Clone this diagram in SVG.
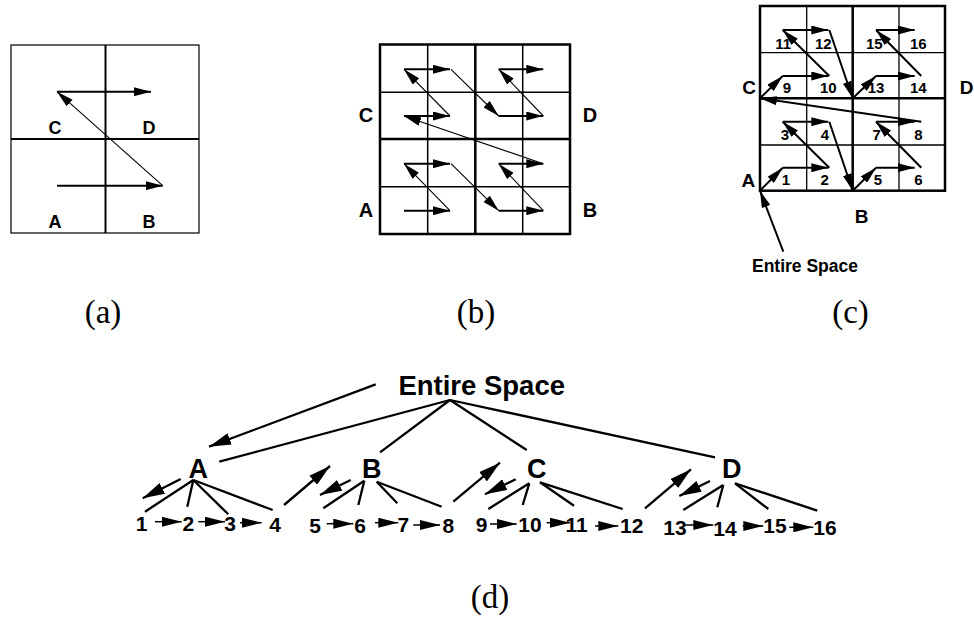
<svg xmlns="http://www.w3.org/2000/svg" width="974" height="631" viewBox="0 0 974 631">
<style>
.g{fill:none;stroke:#000}
.h{fill:none;stroke:#000;stroke-width:2;marker-end:url(#ah)}
.d{fill:none;stroke:#000;stroke-width:1.1;marker-end:url(#ah)}
.tl{fill:none;stroke:#000;stroke-width:2.3}
.ta{fill:none;stroke:#000;stroke-width:2.3;marker-end:url(#ahL)}
.sa{fill:none;stroke:#000;stroke-width:1.5;marker-end:url(#ahS)}
.t{font-family:"Liberation Sans",Arial,sans-serif;font-weight:bold;fill:#000;text-anchor:middle}
.cap{font-family:"Liberation Serif","Times New Roman",serif;font-size:33px;fill:#000;text-anchor:middle}
</style>
<defs>
<marker id="ah" viewBox="0 0 17 9" refX="17" refY="4.5" markerWidth="17" markerHeight="9" markerUnits="userSpaceOnUse" orient="auto"><path d="M0,0 L17,4.5 L0,9 z" fill="#000"/></marker>
<marker id="ahL" viewBox="0 0 22 12" refX="22" refY="6" markerWidth="22" markerHeight="12" markerUnits="userSpaceOnUse" orient="auto"><path d="M0,0 L22,6 L0,12 z" fill="#000"/></marker>
<marker id="ahS" viewBox="0 0 20 10" refX="20" refY="5" markerWidth="20" markerHeight="10" markerUnits="userSpaceOnUse" orient="auto"><path d="M0,0 L20,5 L0,10 z" fill="#000"/></marker>
</defs>

<g id="panel-a">
<rect class="g" x="11" y="45" width="188" height="188" stroke-width="1.2"/>
<line class="g" x1="105.5" y1="45" x2="105.5" y2="233" stroke-width="2"/>
<line class="g" x1="11" y1="139" x2="199" y2="139" stroke-width="2"/>
<g id="a-connectors">
<path class="h" d="M57,185.7 H162.7"/>
<path class="d" d="M162.7,185.7 L57,91.7"/>
<path class="h" d="M57,91.7 H151"/>
</g>
<text class="t" font-size="18" x="55" y="134">C</text>
<text class="t" font-size="18" x="149" y="134">D</text>
<text class="t" font-size="18" x="55" y="228">A</text>
<text class="t" font-size="18" x="149" y="228">B</text>
<text class="cap" x="103" y="323">(a)</text>
</g>

<g id="panel-b">
<rect class="g" x="380" y="44.5" width="190" height="189.5" stroke-width="2.5"/>
<line class="g" x1="427.7" y1="44.5" x2="427.7" y2="234" stroke-width="1.5"/>
<line class="g" x1="522.7" y1="44.5" x2="522.7" y2="234" stroke-width="1.5"/>
<line class="g" x1="380" y1="92.3" x2="570" y2="92.3" stroke-width="1.5"/>
<line class="g" x1="380" y1="186.7" x2="570" y2="186.7" stroke-width="1.5"/>
<line class="g" x1="475.3" y1="44.5" x2="475.3" y2="234" stroke-width="2.5"/>
<line class="g" x1="380" y1="139" x2="570" y2="139" stroke-width="2.5"/>
<g id="b-connectors">
<path class="h" d="M404,210.7 H450"/>
<path class="d" d="M450,210.7 L404,163.7"/>
<path class="h" d="M404,163.7 H450"/>
<path class="d" d="M451,163.7 L498.7,210.7"/>
<path class="h" d="M498.7,210.7 H543.3"/>
<path class="d" d="M543.3,210.7 L498.7,163.7"/>
<path class="h" d="M498.7,163.7 H543.3"/>
<path class="d" d="M543.3,163.7 L404,116"/>
<path class="h" d="M404,116 H450"/>
<path class="d" d="M450,116 L404,69.3"/>
<path class="h" d="M404,69.3 H450"/>
<path class="d" d="M451,69.3 L498.7,116"/>
<path class="h" d="M498.7,116 H543.3"/>
<path class="d" d="M543.3,116 L498.7,69.3"/>
<path class="h" d="M498.7,69.3 H543.3"/>
</g>
<text class="t" font-size="20" x="366" y="122">C</text>
<text class="t" font-size="20" x="590" y="122">D</text>
<text class="t" font-size="20" x="366" y="217">A</text>
<text class="t" font-size="20" x="590" y="217">B</text>
<text class="cap" x="476" y="323">(b)</text>
</g>

<g id="panel-c">
<rect class="g" x="760" y="6" width="185" height="184.7" stroke-width="2.5"/>
<line class="g" x1="806.7" y1="6" x2="806.7" y2="190.7" stroke-width="1.3"/>
<line class="g" x1="899" y1="6" x2="899" y2="190.7" stroke-width="1.3"/>
<line class="g" x1="760" y1="52.7" x2="945" y2="52.7" stroke-width="1.3"/>
<line class="g" x1="760" y1="145" x2="945" y2="145" stroke-width="1.3"/>
<line class="g" x1="852.7" y1="6" x2="852.7" y2="190.7" stroke-width="2.5"/>
<line class="g" x1="760" y1="98.3" x2="945" y2="98.3" stroke-width="2.5"/>
<g id="c-connectors">
<path class="h" d="M760,190.7 L782.7,167.7"/>
<path class="h" d="M782.7,167.7 H828.3"/>
<path class="h" d="M829.3,167.7 L782.7,121.7"/>
<path class="h" d="M782.7,121.7 H828.3"/>
<path class="h" d="M829.3,121.7 L852.7,190.7"/>
<path class="h" d="M852.7,190.7 L876,167.7"/>
<path class="h" d="M876,167.7 H914.7"/>
<path class="h" d="M921.3,167.7 L876,121.7"/>
<path class="h" d="M876,121.7 H914.7"/>
<path class="h" stroke-width="1.6" d="M921.3,121.7 L760,98.3"/>
<path class="h" d="M760,98.3 L782.7,76"/>
<path class="h" d="M782.7,76 H828.3"/>
<path class="h" d="M829.3,76 L782.7,30"/>
<path class="h" d="M782.7,30 H828.3"/>
<path class="h" d="M829.3,30 L852.7,98.3"/>
<path class="h" d="M852.7,98.3 L876,76"/>
<path class="h" d="M876,76 H914.7"/>
<path class="h" d="M921.3,76 L876,30"/>
<path class="h" d="M876,30 H914.7"/>
<path class="h" d="M783.3,251.7 L760,190.7"/>
</g>
<g font-size="15">
<text class="t" x="786" y="185">1</text>
<text class="t" x="824.7" y="185">2</text>
<text class="t" x="878" y="185">5</text>
<text class="t" x="918.3" y="185">6</text>
<text class="t" x="785" y="140">3</text>
<text class="t" x="825" y="140">4</text>
<text class="t" x="876.7" y="140">7</text>
<text class="t" x="918.3" y="140">8</text>
<text class="t" x="787" y="93.3">9</text>
<text class="t" x="828.3" y="93.3">10</text>
<text class="t" x="876" y="93.3">13</text>
<text class="t" x="918.3" y="93.3">14</text>
<text class="t" x="783.3" y="49.3">11</text>
<text class="t" x="823.3" y="49.3">12</text>
<text class="t" x="874.3" y="49.3">15</text>
<text class="t" x="918.3" y="49.3">16</text>
</g>
<text class="t" font-size="19" x="749" y="94">C</text>
<text class="t" font-size="19" x="966.5" y="94">D</text>
<text class="t" font-size="19" x="748.3" y="186.5">A</text>
<text class="t" font-size="19" x="861.7" y="222.5">B</text>
<text class="t" font-size="17.5" x="805" y="272">Entire Space</text>
<text class="cap" x="850.5" y="323">(c)</text>
</g>

<g id="panel-d">
<g id="tree-connectors">
<line class="tl" x1="450" y1="400" x2="219.3" y2="461.7"/>
<line class="tl" x1="450" y1="400" x2="380" y2="452.3"/>
<line class="tl" x1="450" y1="400" x2="526.7" y2="450"/>
<line class="tl" x1="450" y1="400" x2="715" y2="457.3"/>
<path class="ta" d="M375.7,384.3 L209,446.7"/>

<line class="tl" x1="193.3" y1="480" x2="145" y2="511.7"/>
<line class="tl" x1="193.3" y1="480" x2="187.3" y2="506.7"/>
<line class="tl" x1="193.3" y1="480" x2="228.3" y2="514.3"/>
<line class="tl" x1="193.3" y1="480" x2="272.7" y2="510"/>

<line class="tl" x1="364.3" y1="480.7" x2="323.3" y2="508.3"/>
<line class="tl" x1="364.3" y1="480.7" x2="358.3" y2="505"/>
<line class="tl" x1="376.7" y1="481.7" x2="397.3" y2="503.3"/>
<line class="tl" x1="376.7" y1="481.7" x2="441.7" y2="506.7"/>

<line class="tl" x1="529.3" y1="483.3" x2="488.3" y2="509"/>
<line class="tl" x1="529.3" y1="483.3" x2="522.7" y2="505"/>
<line class="tl" x1="540" y1="482.3" x2="574" y2="505.7"/>
<line class="tl" x1="540" y1="482.3" x2="622.7" y2="509"/>

<line class="tl" x1="723.3" y1="485" x2="683.3" y2="510"/>
<line class="tl" x1="723.3" y1="485" x2="717.3" y2="507.3"/>
<line class="tl" x1="735" y1="483.3" x2="768.3" y2="509"/>
<line class="tl" x1="735" y1="483.3" x2="817.3" y2="510.7"/>

<path class="ta" d="M180.7,479 L142.7,498.3"/>
<path class="ta" d="M284,505 L330,466"/>
<path class="ta" d="M350.7,480 L320,495"/>
<path class="ta" d="M453.3,501.7 L500,462.7"/>
<path class="ta" d="M515.7,479.3 L485,494.3"/>
<path class="ta" d="M645,508.3 L691,469.3"/>
<path class="ta" d="M710,481 L679.3,496"/>

<path class="sa" d="M155,521.7 H181.7"/>
<path class="sa" d="M198.3,521.7 H225"/>
<path class="sa" d="M240,522.7 H261.7"/>
<path class="sa" d="M326.7,523.7 H353.3"/>
<path class="sa" d="M375,522.7 H398.3"/>
<path class="sa" d="M413.3,525 H440"/>
<path class="sa" d="M490,524 H516.7"/>
<path class="sa" d="M546.7,522.7 H570"/>
<path class="sa" d="M595,526 H618.3"/>
<path class="sa" d="M685,525 H713.3"/>
<path class="sa" d="M742.7,526 H763.3"/>
<path class="sa" d="M789.3,527.3 H813.3"/>
</g>
<g id="node-root"><text class="t" font-size="27.5" x="481.7" y="395">Entire Space</text></g>
<g id="node-A"><text class="t" font-size="27" x="198.3" y="478">A</text></g>
<g id="node-B"><text class="t" font-size="27" x="371.7" y="478">B</text></g>
<g id="node-C"><text class="t" font-size="27" x="536.7" y="478">C</text></g>
<g id="node-D"><text class="t" font-size="27" x="731.7" y="478">D</text></g>
<g id="leaves" font-size="21">
<text class="t" x="141.7" y="531">1</text>
<text class="t" x="188.3" y="531">2</text>
<text class="t" x="230" y="531">3</text>
<text class="t" x="275" y="532">4</text>
<text class="t" x="315" y="533">5</text>
<text class="t" x="360" y="533">6</text>
<text class="t" x="403.3" y="532">7</text>
<text class="t" x="448.3" y="533">8</text>
<text class="t" x="481.7" y="532">9</text>
<text class="t" x="530" y="532">10</text>
<text class="t" x="576.7" y="532">11</text>
<text class="t" x="631.7" y="533">12</text>
<text class="t" x="675" y="535">13</text>
<text class="t" x="725" y="536">14</text>
<text class="t" x="775" y="533">15</text>
<text class="t" x="825" y="535">16</text>
</g>
<text class="cap" x="490" y="608">(d)</text>
</g>
</svg>
